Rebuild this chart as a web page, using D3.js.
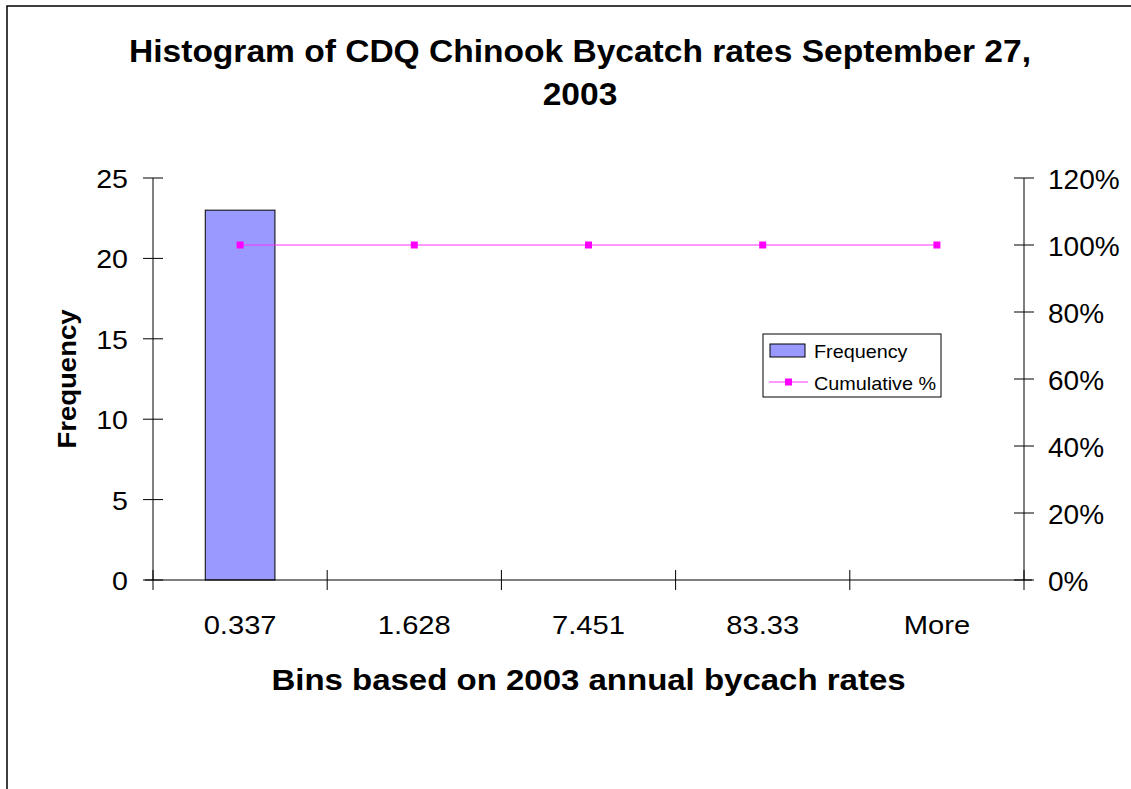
<!DOCTYPE html>
<html><head><meta charset="utf-8">
<script src="https://cdn.jsdelivr.net/npm/d3@7"></script>
<style>body{margin:0;background:#fff}svg{display:block}text{font-family:"Liberation Sans",Arial,sans-serif}</style>
</head><body>
<script>
const categories = ["0.337","1.628","7.451","83.33","More"];
const frequency = [23,0,0,0,0];
const cumulative = [1,1,1,1,1];
const freqTicks = [0,5,10,15,20,25];
const pctTicks = [0,0.2,0.4,0.6,0.8,1.0,1.2];
const title = ["Histogram of CDQ Chinook Bycatch rates September 27,","2003"];

const W=1131,H=789;
const SX=1.1; // horizontal stretch of text, as in the reference
const svg=d3.select("body").append("svg").attr("width",W).attr("height",H);
svg.append("rect").attr("x",7).attr("y",6).attr("width",1140).attr("height",800).attr("fill","#fff").attr("stroke","#000").attr("stroke-width",1.5);

function txt(x,y,s,size,o={}){
  const g=svg.append("g").attr("transform",`translate(${x},${y})${o.rot?" rotate("+o.rot+")":""} scale(${o.sx||SX},1)`);
  g.append("text").attr("text-anchor",o.anchor||"middle").attr("font-size",size).attr("font-weight",o.bold?"bold":"normal").text(s);
}

const L=153,R=1024,T=178,B=580;
const x=d3.scaleBand().domain(categories).range([L,R]);
const y=d3.scaleLinear().domain([0,25]).range([B,T]);
const y2=d3.scaleLinear().domain([0,1.2]).range([B,T]);

// bars
const bw=x.bandwidth()*0.4;
svg.selectAll(".bar").data(categories.map((c,i)=>({c,v:frequency[i]})).filter(d=>d.v>0)).join("rect")
 .attr("x",d=>x(d.c)+x.bandwidth()/2-bw/2).attr("y",d=>y(d.v)).attr("width",bw).attr("height",d=>B-y(d.v))
 .attr("fill","#9999FF").attr("stroke","#000").attr("stroke-width",1);

// axes
const ax=svg.append("g").attr("stroke","#000").attr("stroke-width",1).attr("fill","none");
ax.append("line").attr("x1",L).attr("x2",L).attr("y1",T).attr("y2",B);
ax.append("line").attr("x1",R).attr("x2",R).attr("y1",T).attr("y2",B);
ax.append("line").attr("x1",L-8).attr("x2",R+8).attr("y1",B).attr("y2",B);
freqTicks.forEach(t=>ax.append("line").attr("x1",L-10).attr("x2",L+10).attr("y1",y(t)).attr("y2",y(t)));
pctTicks.forEach(t=>ax.append("line").attr("x1",R-10).attr("x2",R+10).attr("y1",y2(t)).attr("y2",y2(t)));
const edges=categories.map(c=>x(c)).concat([R]);
edges.forEach(e=>ax.append("line").attr("x1",e).attr("x2",e).attr("y1",B-10).attr("y2",B+10));

freqTicks.forEach(t=>txt(128,y(t)+10,t,26,{anchor:"end"}));
pctTicks.forEach(t=>txt(1048,y2(t)+11,d3.format(".0%")(t),28,{anchor:"start",sx:1}));
categories.forEach(c=>txt(x(c)+x.bandwidth()/2,634,c,26.5));

// line
const line=d3.line().x((d,i)=>x(categories[i])+x.bandwidth()/2).y(d=>y2(d));
svg.append("path").datum(cumulative).attr("d",line).attr("fill","none").attr("stroke","#FF33FF").attr("stroke-width",1.2);
svg.selectAll(".mk").data(cumulative).join("rect").attr("x",(d,i)=>x(categories[i])+x.bandwidth()/2-3.5).attr("y",d=>y2(d)-3.5).attr("width",7).attr("height",7).attr("fill","#FF00FF");

// titles
title.forEach((s,i)=>txt(580,62+i*43,s,30.5,{bold:true}));
txt((L+R)/2,690,"Bins based on 2003 annual bycach rates",30,{bold:true});
txt(76,(T+B)/2,"Frequency",25,{bold:true,rot:-90});

// legend
const lg=svg.append("g");
lg.append("rect").attr("x",763).attr("y",334).attr("width",178).attr("height",63).attr("fill","#fff").attr("stroke","#000").attr("stroke-width",1);
lg.append("rect").attr("x",770).attr("y",344).attr("width",35).attr("height",13).attr("fill","#9999FF").attr("stroke","#000");
lg.append("line").attr("x1",769).attr("x2",808).attr("y1",382).attr("y2",382).attr("stroke","#FF33FF").attr("stroke-width",1.2);
lg.append("rect").attr("x",785).attr("y",378.5).attr("width",7).attr("height",7).attr("fill","#FF00FF");
txt(814,358,"Frequency",18,{anchor:"start"});
txt(814,390,"Cumulative %",18,{anchor:"start"});
</script>
</body></html>
